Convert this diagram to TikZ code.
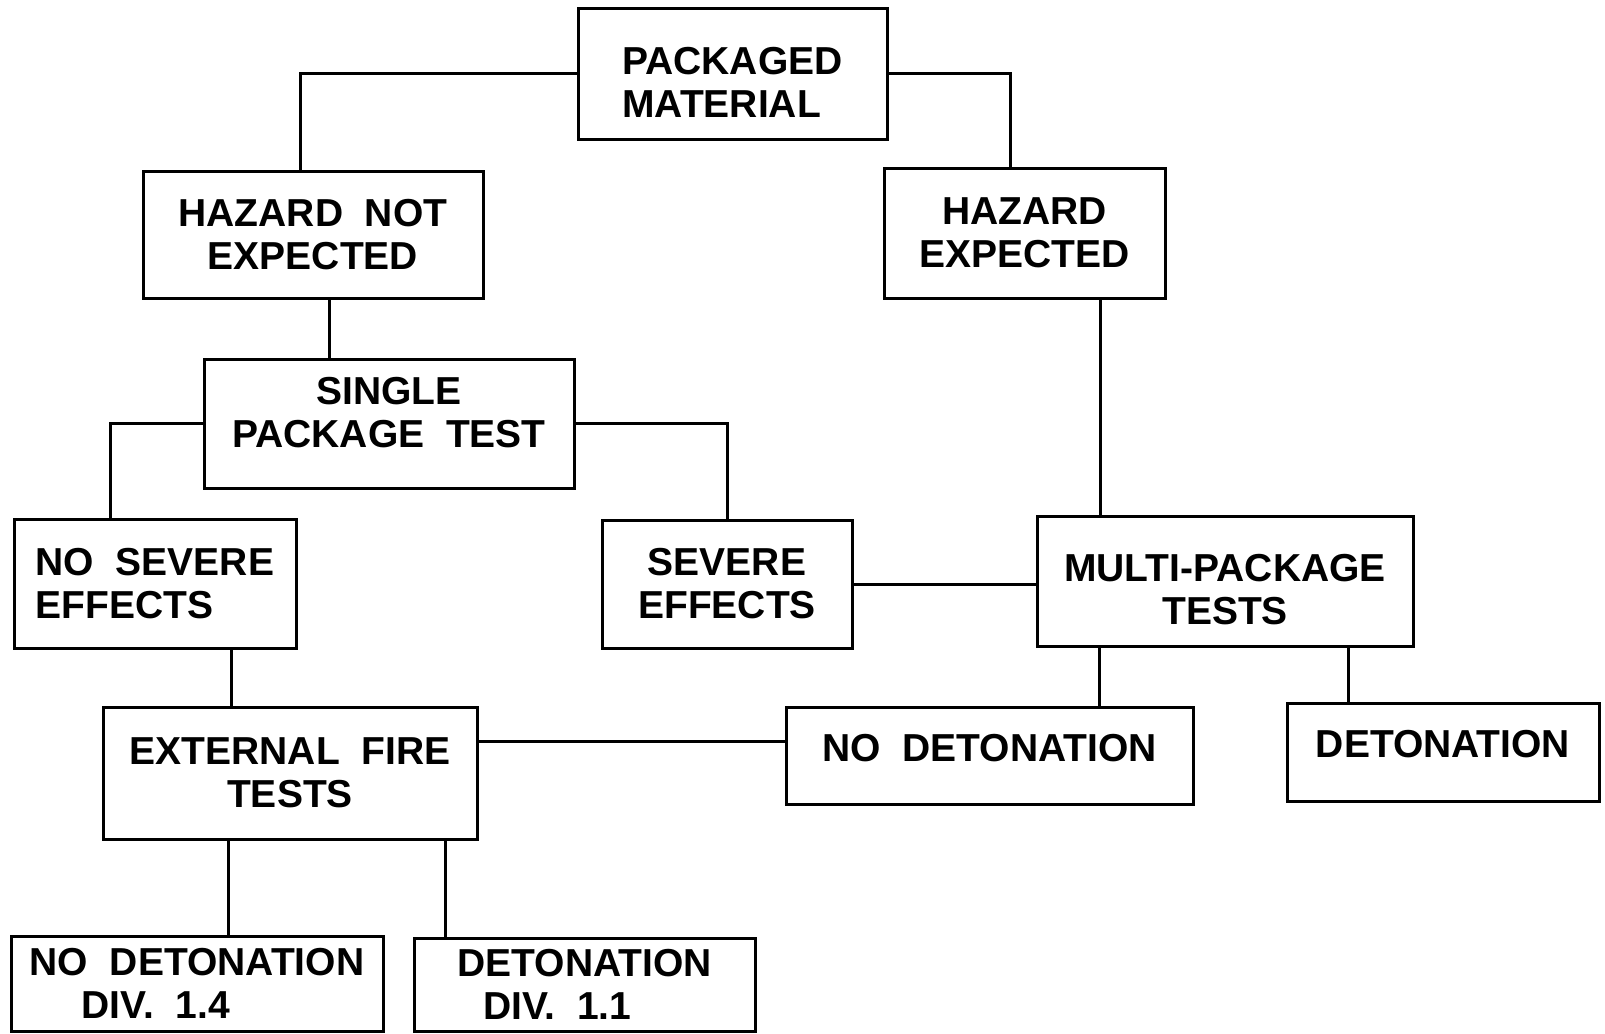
\documentclass[tikz,border=0pt]{standalone}
\usepackage{fontspec}
\setmainfont{Liberation Sans}[WordSpace=2]
\usetikzlibrary{calc}

\begin{document}
\begin{tikzpicture}[x=.5pt,y=-.5pt,
  font=\fontsize{19.5}{21.5}\selectfont\bfseries,
  box/.style={draw,line width=1.5pt,align=center,inner sep=0pt},
  link/.style={draw,line width=1.5pt}]

\path[use as bounding box] (0,0) rectangle (1605,1033);

% boxes
\node[box,align=left,text height=44pt,minimum width=154.5pt,minimum height=65.5pt] (pkg) at (732.5,73.5) {PACKAGED\\MATERIAL};
\node[box,minimum width=170pt,minimum height=63.5pt] (hnot) at (313,234.5) {HAZARD NOT\\EXPECTED};
\node[box,minimum width=140.5pt,minimum height=65pt] (hexp) at (1024.5,233) {HAZARD\\EXPECTED};
\node[box,text depth=11pt,minimum width=185pt,minimum height=64.5pt] (single) at (389,423.5) {SINGLE\\PACKAGE TEST};
\node[box,align=left,minimum width=141pt,minimum height=64.5pt] (nosev) at (155,583.5) {NO SEVERE\\EFFECTS};
\node[box,minimum width=125pt,minimum height=64pt] (sev) at (727,584) {SEVERE\\EFFECTS};
\node[box,text height=44pt,minimum width=188pt,minimum height=65pt] (multi) at (1225,581) {MULTI-PACKAGE\\TESTS};
\node[box,minimum width=187pt,minimum height=66pt] (fire) at (290,773) {EXTERNAL FIRE\\TESTS};
\node[box,text depth=8pt,minimum width=203.5pt,minimum height=48.5pt] (nodet) at (989.5,755.5) {NO DETONATION};
\node[box,text depth=8pt,minimum width=156pt,minimum height=49pt] (det) at (1443,752) {DETONATION};
\node[box,align=left,minimum width=186pt,minimum height=47.5pt] (nodetb) at (197,983.5) {NO DETONATION\\\hspace*{26pt}DIV. 1.4};
\node[box,align=left,minimum width=170.5pt,minimum height=46.5pt] (detb) at (584.5,984.5) {DETONATION\\\hspace*{13pt}DIV. 1.1};

% connector ends
\coordinate (hnotin) at ([xshift=-6.5pt]hnot.north);
\coordinate (hexpin) at ([xshift=-7.25pt]hexp.north);
\coordinate (hnotout) at ([xshift=8pt]hnot.south);
\coordinate (nosevin) at ([xshift=-22.5pt]nosev.north);
\coordinate (hexpout) at ([xshift=37.75pt]hexp.south);
\coordinate (nosevout) at ([xshift=38pt]nosev.south);
\coordinate (fireout) at ([yshift=16pt]fire.east);
\coordinate (multil) at ([xshift=-63pt]multi.south);
\coordinate (multir) at ([xshift=61.5pt]multi.south);
\coordinate (firel) at ([xshift=-31pt]fire.south);
\coordinate (firer) at ([xshift=77.5pt]fire.south);

% connectors
\draw[link] (pkg.west) -| (hnotin);
\draw[link] (pkg.east) -| (hexpin);
\draw[link] (hnotout) -- (hnotout |- single.north);
\draw[link] (single.west) -| (nosevin);
\draw[link] (single.east) -| (sev.north);
\draw[link] (hexpout) -- (hexpout |- multi.north);
\draw[link] (sev.east) -- (sev.east -| multi.west);
\draw[link] (nosevout) -- (nosevout |- fire.north);
\draw[link] (fireout) -- (fireout -| nodet.west);
\draw[link] (multil) -- (multil |- nodet.north);
\draw[link] (multir) -- (multir |- det.north);
\draw[link] (firel) -- (firel |- nodetb.north);
\draw[link] (firer) -- (firer |- detb.north);

\end{tikzpicture}
\end{document}
